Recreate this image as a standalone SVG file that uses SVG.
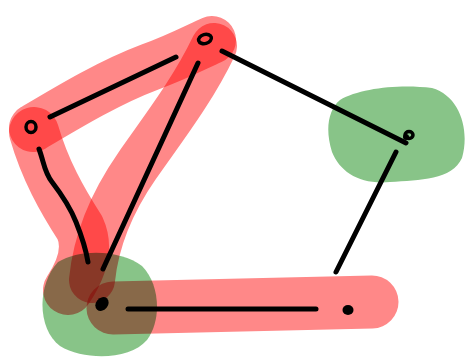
<svg xmlns="http://www.w3.org/2000/svg" width="466" height="359" viewBox="0 0 466 359">
<style>
.hl{fill:none;stroke:#ff8888;stroke-linecap:round;stroke-linejoin:round;mix-blend-mode:multiply}
.gr{fill:#88c488;mix-blend-mode:multiply}
.edge{fill:none;stroke:#000;stroke-width:5;stroke-linecap:round;stroke-linejoin:round}
.ring{fill:none;stroke:#000;stroke-width:3.5}
.dot{fill:#000}
</style>
<rect width="466" height="359" fill="#fff"/>
<g id="highlights">
<path class="hl" stroke-width="48" d="M33,128 C70,106 110,82 150,67 C180,56 198,46 212,40"/>
<path class="hl" stroke-width="46" d="M214,46 C192,92 162,130 137,166 C112,202 96,240 92,280"/>
<path class="hl" stroke-width="50" d="M34,132 C45,170 62,200 80,228 C90,250 80,272 68,290"/>
<path class="hl" stroke-width="53" d="M113,308 C200,306 300,303 372,302"/>
</g>
<g id="blobs">
<path class="gr" d="M58,262 C80,248 122,250 142,266 C160,284 162,320 147,340 C130,360 85,361 60,346 C38,330 36,286 58,262 Z"/>
<path class="gr" d="M340,100 C360,88 400,84 432,88 C460,96 470,130 462,158 C452,180 420,180 390,182 C360,185 340,172 332,152 C325,130 328,110 340,100 Z"/>
</g>
<g id="connectors">
<path class="edge" d="M50,117 L176,57"/>
<path class="edge" d="M198,63 L103,269"/>
<path class="edge" d="M39,149 C44,162 44,172 52,182 C62,195 70,207 76,222 C82,237 86,250 88,262"/>
<path class="edge" d="M128,309 L316,309"/>
<path class="edge" d="M222,51 L406,143"/>
<path class="edge" d="M396,152 L336,272"/>
</g>
<g id="node-top"><ellipse class="ring" cx="205" cy="39" rx="6.5" ry="4.5" transform="rotate(-15 205 39)"/></g>
<g id="node-left"><ellipse class="ring" cx="31" cy="127" rx="5" ry="5.5"/></g>
<g id="node-right"><ellipse class="ring" cx="409" cy="135" rx="4" ry="3.5"/><circle class="dot" cx="406" cy="137" r="3"/></g>
<g id="node-bottom-left"><ellipse class="dot" cx="102" cy="304" rx="6" ry="7.5" transform="rotate(40 102 304)"/></g>
<g id="node-bottom-right"><ellipse class="dot" cx="348" cy="310" rx="5.5" ry="5"/></g>
</svg>
